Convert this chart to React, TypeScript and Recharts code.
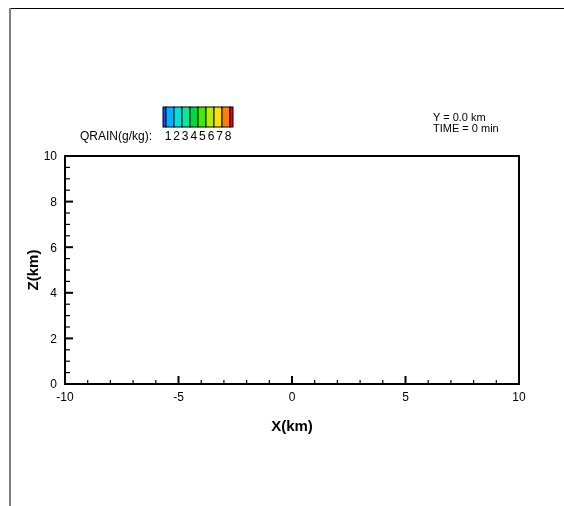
import {Customized, ReferenceArea, Scatter, ScatterChart, XAxis, YAxis} from "recharts";

const FONT = "'Liberation Sans', Arial, Helvetica, sans-serif";

// axis ticks (km)
const xTicks = [-10, -9, -8, -7, -6, -5, -4, -3, -2, -1, 0, 1, 2, 3, 4, 5, 6, 7, 8, 9, 10];
const xMajor = [-10, -5, 0, 5, 10];
const zTicks = [0, 0.5, 1, 1.5, 2, 2.5, 3, 3.5, 4, 4.5, 5, 5.5, 6, 6.5, 7, 7.5, 8, 8.5, 9, 9.5, 10];
const zMajor = [0, 2, 4, 6, 8, 10];

// no rain yet at t = 0
const rainPoints: { x: number; z: number }[] = [];

// contour legend
const qrainLevels = [1, 2, 3, 4, 5, 6, 7, 8];
const qrainColors = [
  "#1050ff", "#00b4ff", "#00e0e0", "#00eca0", "#00d840",
  "#40ec00", "#b4f000", "#ffe000", "#ff8000", "#ff0000",
];
const infoLines = ["Y = 0.0 km", "TIME = 0 min"];

const XTick = (props: any) => {
  const {x, y, payload} = props;
  const major = xMajor.includes(payload.value);
  return <g>
    <line x1={x} x2={x} y1={y} y2={y - (major ? 8 : 4)} stroke="#000" strokeWidth={major ? 2 : 1.2}/>
    {major && <text x={x} y={y + 17} textAnchor="middle" fontSize={12} fontFamily={FONT} fill="#000">
      {payload.value}
    </text>}
  </g>;
};

const ZTick = (props: any) => {
  const {x, y, payload} = props;
  const major = zMajor.includes(payload.value);
  return <g>
    <line x1={x} x2={x + (major ? 8 : 5)} y1={y} y2={y} stroke="#000" strokeWidth={major ? 2 : 1.2}/>
    {major && <text x={x - 8} y={y + 4.3} textAnchor="end" fontSize={12} fontFamily={FONT} fill="#000">
      {payload.value}
    </text>}
  </g>;
};

const Overlay = () => {
  const barX = 155, barY = 99, barH = 20;
  const narrow = 3, wide = 8;
  let cx = barX;
  const rects = qrainColors.map((c, i) => {
    const w = i === 0 || i === qrainColors.length - 1 ? narrow : wide;
    const r = <rect key={i} x={cx} y={barY} width={w} height={barH} fill={c} stroke="#000" strokeWidth={1}/>;
    cx += w;
    return r;
  });
  return <g fontFamily={FONT} fill="#000">
    {rects}
    <text x={72} y={131.5} fontSize={12}>QRAIN(g/kg):</text>
    {qrainLevels.map((v, i) =>
      <text key={v} x={160 + i * 8.6} y={131.5} fontSize={12} textAnchor="middle">{v}</text>)}
    {infoLines.map((t, i) =>
      <text key={t} x={425} y={113 + i * 11} fontSize={11}>{t}</text>)}
    <text x={284} y={423} fontSize={15} fontWeight="bold" textAnchor="middle">X(km)</text>
    <text x={30} y={262} fontSize={15} fontWeight="bold" textAnchor="middle" transform="rotate(-90 30 262)">Z(km)</text>
  </g>;
};

export default function App() {
  return <div style={{position: "relative", width: 556, height: 490}}>
    <div style={{position: "fixed", top: 8, left: 10, right: 0, height: 1, background: "#000"}}/>
    <div style={{position: "fixed", top: 8, left: 9, bottom: 0, width: 2, background: "#808080"}}/>
    <ScatterChart width={556} height={490} margin={{top: 148, right: 45, bottom: 113, left: 56}}>
      <XAxis type="number" dataKey="x" domain={[-10, 10]} allowDataOverflow ticks={xTicks} interval={0} height={1}
             axisLine={false} tickLine={false} tickSize={0} tickMargin={0} tick={<XTick/>}/>
      <YAxis type="number" dataKey="z" domain={[0, 10]} allowDataOverflow ticks={zTicks} interval={0} width={1}
             axisLine={false} tickLine={false} tickSize={0} tickMargin={0} tick={<ZTick/>}/>
      <Scatter data={rainPoints} fill="#00b4ff" isAnimationActive={false}/>
      <ReferenceArea x1={-10} x2={10} y1={0} y2={10} fill="none" stroke="#000" strokeWidth={2}
                     ifOverflow="visible"/>
      <Customized component={Overlay}/>
    </ScatterChart>
  </div>;
}
